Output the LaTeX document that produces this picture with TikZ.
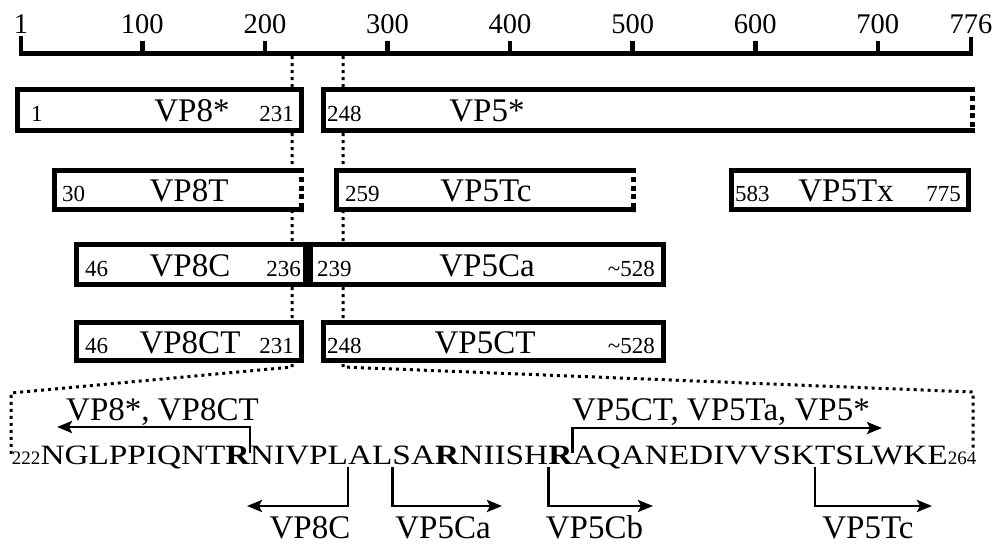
\documentclass[tikz,border=0pt]{standalone}
\usepackage{fontspec}
\setmainfont{Liberation Serif}
\newfontfamily\seqfont{Liberation Serif}[FakeStretch=1.19]
\usetikzlibrary{arrows.meta}
\begin{document}
\begin{tikzpicture}[x=1pt,y=-1pt,
  axisline/.style={line width=5pt},
  tickmark/.style={line width=4.5pt},
  axlab/.style={font=\fontsize{28.5}{30}\selectfont, inner sep=0pt, anchor=base},
  boxline/.style={line width=5.2pt, line join=miter},
  dotend/.style={line width=5.2pt, dash pattern=on 5pt off 3.8pt},
  guide/.style={line width=3pt, dash pattern=on 3pt off 4pt},
  lab/.style={font=\fontsize{33}{35}\selectfont, inner sep=0pt, anchor=base},
  num/.style={font=\fontsize{23}{25}\selectfont, inner sep=0pt},
  numl/.style={num, anchor=base west},
  numr/.style={num, anchor=base east},
  seq/.style={font=\seqfont\fontsize{28}{30}\selectfont, inner sep=0pt, outer sep=0pt, anchor=base west},
  subn/.style={font=\fontsize{19}{20}\selectfont, inner sep=0pt, outer sep=0pt, anchor=base west},
  arr/.style={line width=2.7pt, line join=miter, -{Stealth[length=15pt, width=12pt, inset=3pt]}}]
\useasboundingbox (0,0) rectangle (997,546);
\fill[white] (0,0) rectangle (997,546);

% ---- guide dotted lines (behind boxes)
\coordinate (gl0) at (292,56);
\coordinate (gl1) at (292,367);
\coordinate (gl2) at (11,393);
\coordinate (gl3) at (11,455);
\coordinate (gr0) at (343,56);
\coordinate (gr1) at (343,367);
\coordinate (gr2) at (973,392);
\coordinate (gr3) at (973,448);
\draw[guide] (gl0) -- (gl1) -- (gl2) -- (gl3);
\draw[guide] (gr0) -- (gr1) -- (gr2) -- (gr3);

% ---- axis
\draw[axisline] (21,53) -- (971,53);
\draw[tickmark] (21,36) -- (21,55.5);
\draw[tickmark] (971,37) -- (971,55.5);
\node[axlab] (ax1) at (21,33) {1};
\node[axlab] (ax776) at (971,33) {776};
\foreach \n in {100,200,300,400,500,600,700} {
  \pgfmathsetmacro\xx{21+(\n-1)*1.2258}
  \draw[tickmark] (\xx,41) -- (\xx,53);
  \node[axlab] (ax\n) at (\xx,33) {\n};
}

% ---- row 1
\filldraw[boxline, fill=white] (17.5,89.5) rectangle (301.5,130.5);
\fill[white] (323.5,89.5) rectangle (972.5,130.5);
\draw[boxline] (975,89.5) -- (323.5,89.5) -- (323.5,130.5) -- (975,130.5);
\draw[dotend] (972.5,87) -- (972.5,133);
\node[numl] (n1a) at (31,121.5) {1};
\node[lab] (vp8s) at (192,121.5) {VP8*};
\node[numr] (n1b) at (294,121.5) {231};
\node[numl] (n1c) at (327,121.5) {248};
\node[lab] (vp5s) at (487,121.5) {VP5*};

% ---- row 2
\fill[white] (54.5,170.5) rectangle (301.5,209.5);
\draw[boxline] (304,170.5) -- (54.5,170.5) -- (54.5,209.5) -- (304,209.5);
\draw[dotend] (301.5,168) -- (301.5,212);
\fill[white] (336.5,170.5) rectangle (633.5,209.5);
\draw[boxline] (636,170.5) -- (336.5,170.5) -- (336.5,209.5) -- (636,209.5);
\draw[dotend] (633.5,168) -- (633.5,212);
\filldraw[boxline, fill=white] (731.5,170.5) rectangle (968.5,209.5);
\node[numl] (n2a) at (62,201.5) {30};
\node[lab] (vp8t) at (189,201.5) {VP8T};
\node[numl] (n2b) at (345,201.5) {259};
\node[lab] (vp5tc) at (486,201.5) {VP5Tc};
\node[numl] (n2c) at (735,201.5) {583};
\node[lab] (vp5tx) at (846,201.5) {VP5Tx};
\node[numr] (n2d) at (961,201.5) {775};

% ---- row 3
\filldraw[boxline, fill=white] (76.5,244.5) rectangle (305.5,284.5);
\filldraw[boxline, fill=white] (310.5,244.5) rectangle (663.5,284.5);
\node[numl] (n3a) at (85,276) {46};
\node[lab] (vp8c) at (190,276) {VP8C};
\node[numr] (n3b) at (301,276) {236};
\node[numl] (n3c) at (317,276) {239};
\node[lab] (vp5ca) at (487,276) {VP5Ca};
\node[numr] (n3d) at (655,276) {\textasciitilde 528};

% ---- row 4
\filldraw[boxline, fill=white] (76.5,322.5) rectangle (301.5,360.5);
\filldraw[boxline, fill=white] (323.5,322.5) rectangle (663.5,360.5);
\node[numl] (n4a) at (85,353) {46};
\node[lab] (vp8ct) at (190,353) {VP8CT};
\node[numr] (n4b) at (294,353) {231};
\node[numl] (n4c) at (327,353) {248};
\node[lab] (vp5ct) at (485,353) {VP5CT};
\node[numr] (n4d) at (655,353) {\textasciitilde 528};

% ---- sequence
\node[subn] (s0) at (12,464) {222};
\node[seq] (p1) at (s0.base east) {NGLPPIQNT};
\node[seq] (r1) at (p1.base east) {\textbf{R}};
\node[seq] (p2) at (r1.base east) {NIVPL};
\node[seq] (p3) at (p2.base east) {AL};
\node[seq] (p4) at (p3.base east) {SA};
\node[seq] (r2) at (p4.base east) {\textbf{R}};
\node[seq] (p5) at (r2.base east) {NIISH};
\node[seq] (r3) at (p5.base east) {\textbf{R}};
\node[seq] (p6) at (r3.base east) {AQANEDIVVSK};
\node[seq] (p7) at (p6.base east) {TSLWKE};
\node[subn] (s1) at (p7.base east) {264};

% ---- cleavage arrows
\coordinate (t1) at (57,427);
\coordinate (t6) at (882,428);
\coordinate (t2) at (247,506);
\coordinate (t3) at (502,506);
\coordinate (t4) at (653,506);
\coordinate (t5) at (932,506);
\draw[arr] ([yshift=11pt]r1.base east) -- (r1.base east |- t1) -- (t1);
\draw[arr] ([yshift=11pt]p6.base west) -- (p6.base west |- t6) -- (t6);
\draw[arr] ([yshift=-3pt]p3.base west) -- (p3.base west |- t2) -- (t2);
\draw[arr] ([yshift=-3pt]p4.base west) -- (p4.base west |- t3) -- (t3);
\draw[arr] ([yshift=-3pt]r3.base west) -- (r3.base west |- t4) -- (t4);
\draw[arr] ([yshift=-3pt]p7.base west) -- (p7.base west |- t5) -- (t5);

\node[lab] (l1) at (162.5,420) {VP8*, VP8CT};
\node[lab] (l6) at (721,420) {VP5CT, VP5Ta, VP5*};
\node[lab] (l2) at (310,538) {VP8C};
\node[lab] (l3) at (443,538) {VP5Ca};
\node[lab] (l4) at (594.5,538) {VP5Cb};
\node[lab] (l5) at (868,538) {VP5Tc};
\end{tikzpicture}
\end{document}
